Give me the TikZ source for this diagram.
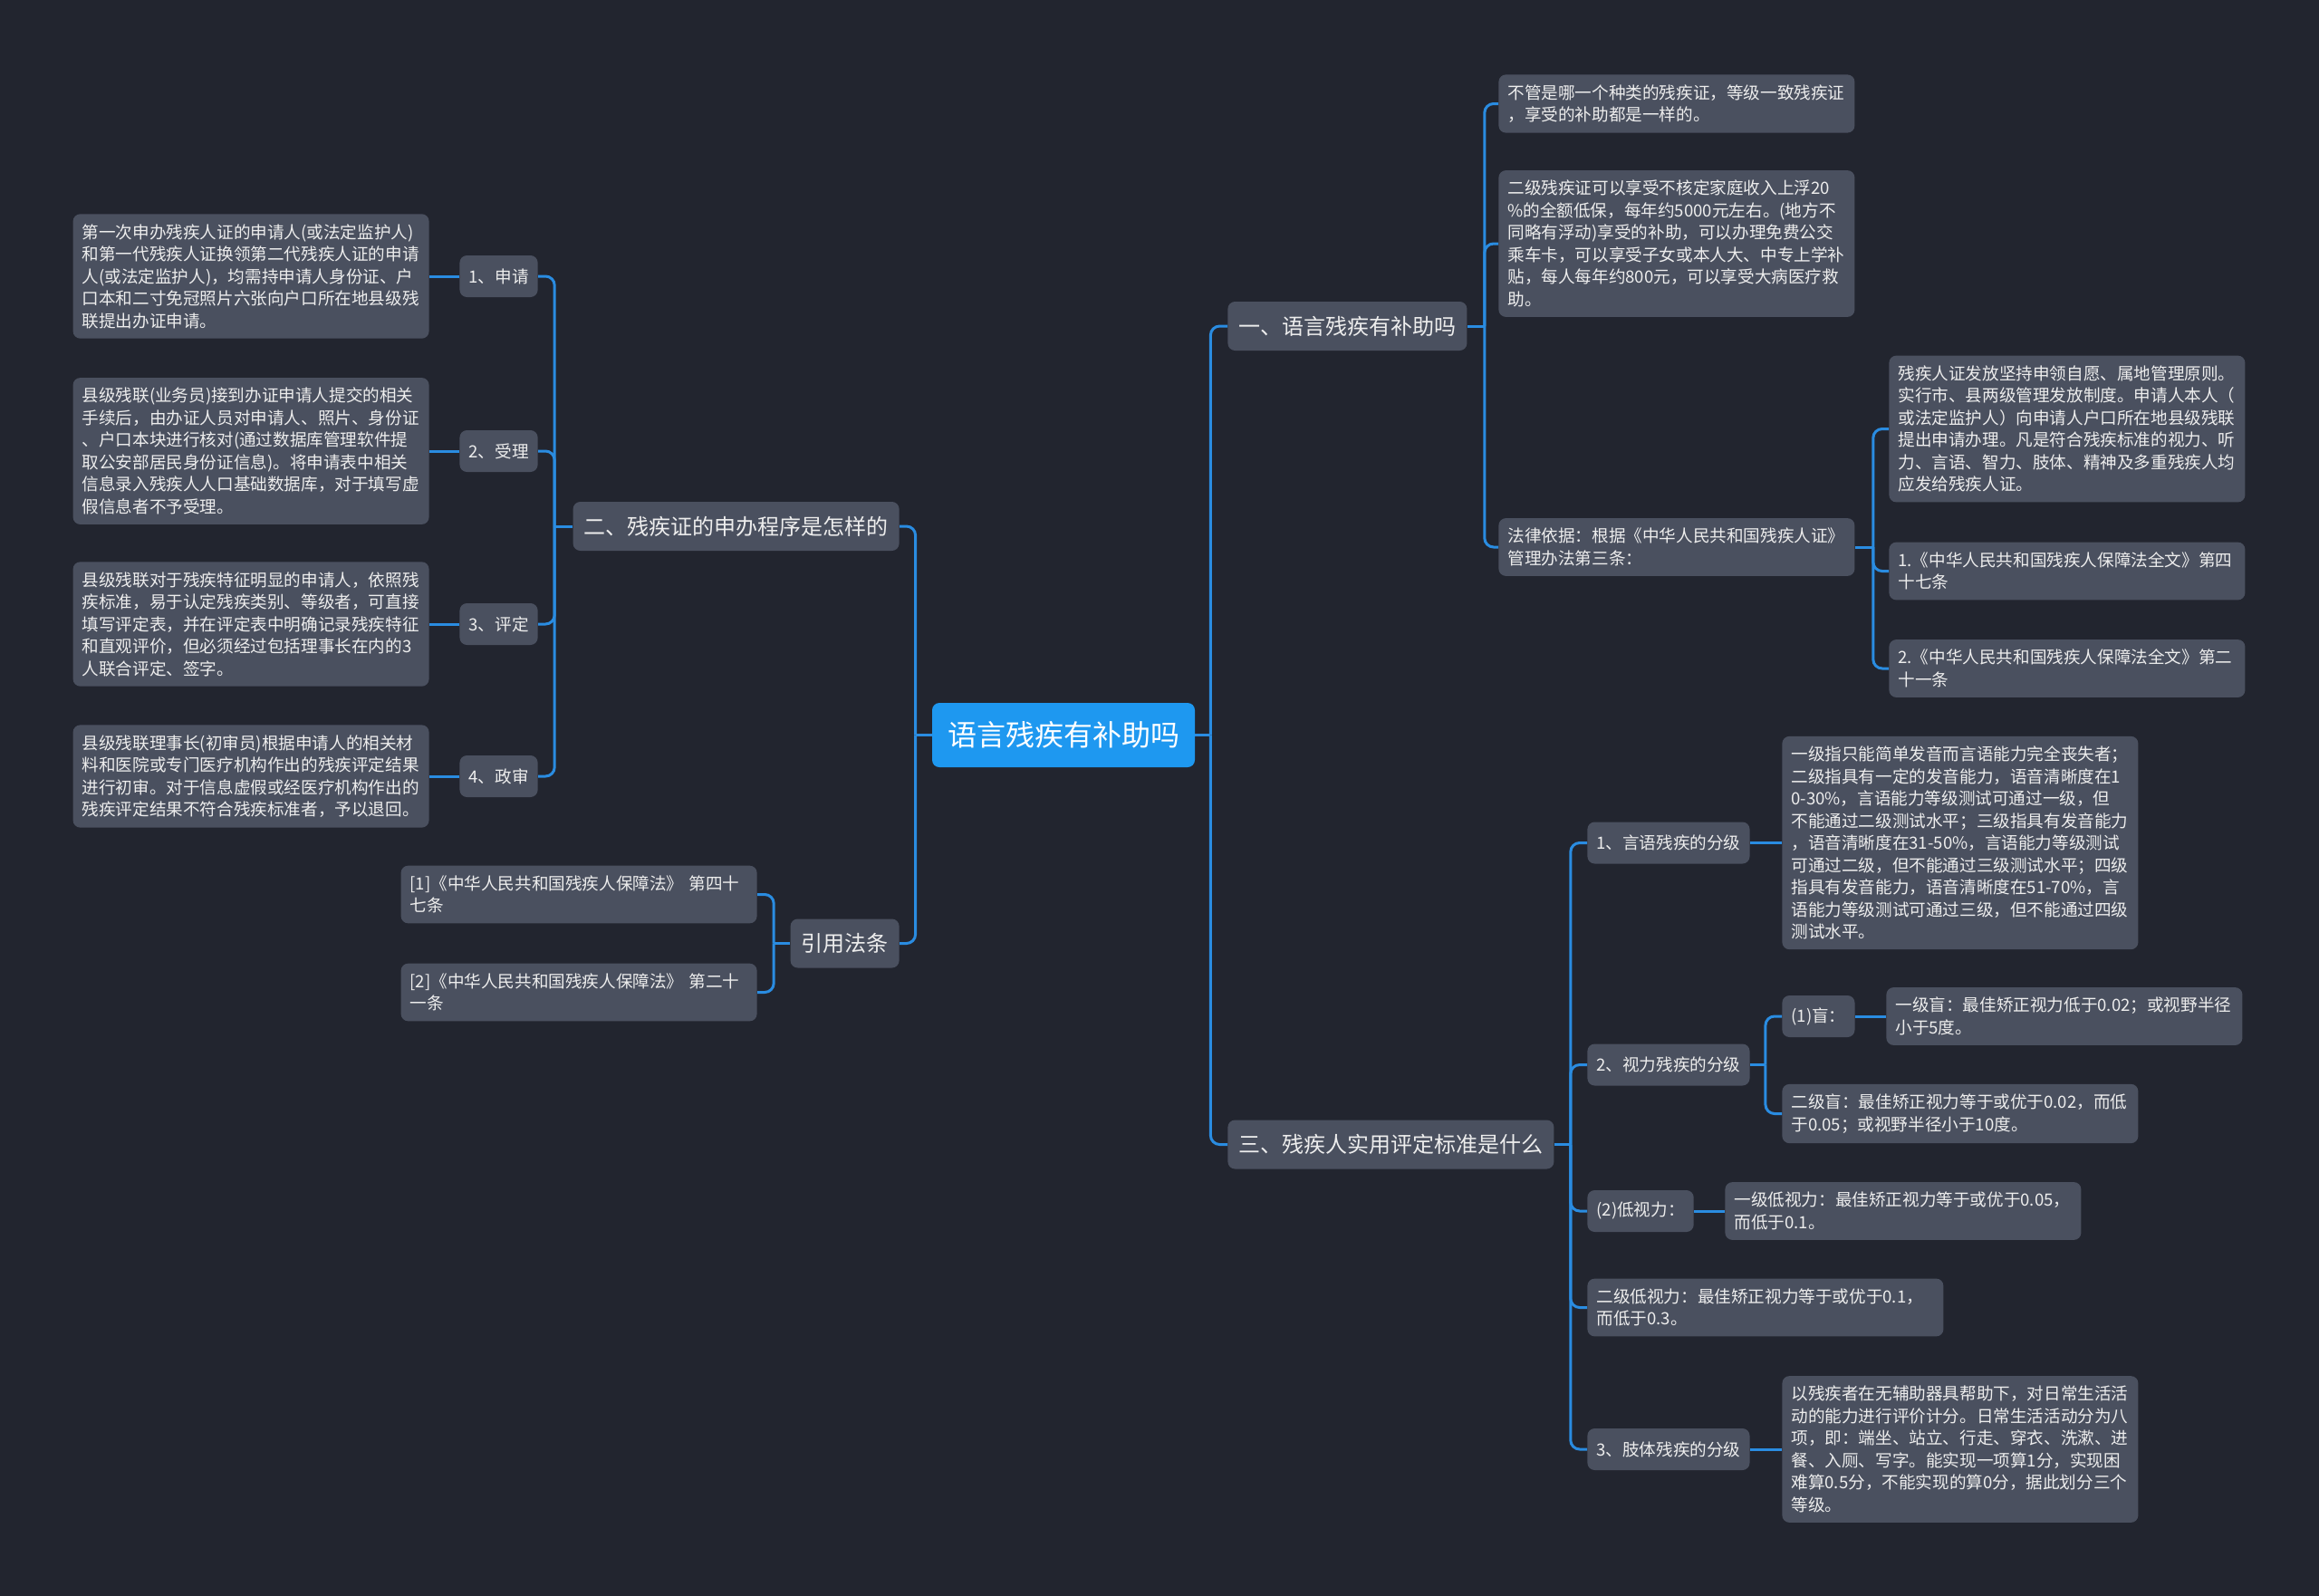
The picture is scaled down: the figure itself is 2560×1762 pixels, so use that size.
\documentclass[tikz,border=0pt]{standalone}
\usepackage{fontspec}
\setmainfont{Noto Sans CJK SC}
\definecolor{bgcol}{HTML}{22252F}
\definecolor{boxgray}{HTML}{4A505F}
\definecolor{linkblue}{HTML}{2A8CE1}
\definecolor{rootblue}{HTML}{1E98F0}
\definecolor{txtwhite}{HTML}{EDEDED}
\tikzset{
	leaf/.style={fill=boxgray, text=txtwhite, rounded corners=4pt, text width=186.5pt, inner xsep=5pt, inner ysep=5.5pt, align=left, font=\fontsize{9.3pt}{12.25pt}\selectfont},
	tag/.style={fill=boxgray, text=txtwhite, rounded corners=4pt, inner xsep=5pt, minimum height=23pt, font=\fontsize{9.3pt}{12.25pt}\selectfont},
	branch/.style={fill=boxgray, text=txtwhite, rounded corners=4pt, inner xsep=6pt, minimum height=27pt, font=\fontsize{12pt}{14pt}\selectfont},
	link/.style={draw=linkblue, line width=1.5pt, rounded corners=5pt},
}
\begin{document}
\begin{tikzpicture}[x=0.5pt,y=-0.5pt]

			\fill[bgcol] (0,0) rectangle (2560,1762);

			% centre
			\node[fill=rootblue, text=white, rounded corners=4pt, inner xsep=8.5pt, minimum height=35.5pt, font=\fontsize{16pt}{18pt}\selectfont] (root) at (1174,811.5) {语言残疾有补助吗};

			% right side
			\node[branch, anchor=west] (b1) at (1355,360) {一、语言残疾有补助吗};
			\node[branch, anchor=west] (b3) at (1355,1263.5) {三、残疾人实用评定标准是什么};

			\node[leaf, anchor=west] (a1) at (1654,114.5) {不管是哪一个种类的残疾证，等级一致残疾证\\，享受的补助都是一样的。};
			\node[leaf, anchor=west] (a2) at (1654,269) {二级残疾证可以享受不核定家庭收入上浮20\\\%的全额低保，每年约5000元左右。(地方不\\同略有浮动)享受的补助，可以办理免费公交\\乘车卡，可以享受子女或本人大、中专上学补\\贴，每人每年约800元，可以享受大病医疗救\\助。};
			\node[leaf, anchor=west] (a3) at (1654,604) {法律依据：根据《中华人民共和国残疾人证》\\管理办法第三条：};

			\node[leaf, anchor=west] (law1) at (2085,473.5) {残疾人证发放坚持申领自愿、属地管理原则。\\实行市、县两级管理发放制度。申请人本人（\\或法定监护人）向申请人户口所在地县级残联\\提出申请办理。凡是符合残疾标准的视力、听\\力、言语、智力、肢体、精神及多重残疾人均\\应发给残疾人证。};
			\node[leaf, anchor=west] (law2) at (2085,630.5) {1.《中华人民共和国残疾人保障法全文》第四\\十七条};
			\node[leaf, anchor=west] (law3) at (2085,738) {2.《中华人民共和国残疾人保障法全文》第二\\十一条};

			\node[tag, anchor=west] (c1) at (1752,930.5) {1、言语残疾的分级};
			\node[leaf, anchor=west] (c1t) at (1967,930.5) {一级指只能简单发音而言语能力完全丧失者；\\二级指具有一定的发音能力，语音清晰度在1\\0-30\%，言语能力等级测试可通过一级，但\\不能通过二级测试水平；三级指具有发音能力\\，语音清晰度在31-50\%，言语能力等级测试\\可通过二级，但不能通过三级测试水平；四级\\指具有发音能力，语音清晰度在51-70\%，言\\语能力等级测试可通过三级，但不能通过四级\\测试水平。};
			\node[tag, anchor=west] (c2) at (1752,1175.5) {2、视力残疾的分级};
			\node[tag, anchor=west] (blind) at (1967,1122) {(1)盲：};
			\node[leaf, anchor=west] (blindt) at (2082,1122) {一级盲：最佳矫正视力低于0.02；或视野半径\\小于5度。};
			\node[leaf, anchor=west] (c22) at (1967,1229.5) {二级盲：最佳矫正视力等于或优于0.02，而低\\于0.05；或视野半径小于10度。};
			\node[tag, anchor=west] (c3) at (1752,1337) {(2)低视力：};
			\node[leaf, anchor=west] (c3t) at (1904,1337) {一级低视力：最佳矫正视力等于或优于0.05，\\而低于0.1。};
			\node[leaf, anchor=west] (c4) at (1752,1443.5) {二级低视力：最佳矫正视力等于或优于0.1，\\而低于0.3。};
			\node[tag, anchor=west] (c5) at (1752,1600) {3、肢体残疾的分级};
			\node[leaf, anchor=west] (c5t) at (1967,1600) {以残疾者在无辅助器具帮助下，对日常生活活\\动的能力进行评价计分。日常生活活动分为八\\项，即：端坐、站立、行走、穿衣、洗漱、进\\餐、入厕、写字。能实现一项算1分，实现困\\难算0.5分，不能实现的算0分，据此划分三个\\等级。};

			% left side
			\node[branch, anchor=east] (b2) at (993,581) {二、残疾证的申办程序是怎样的};
			\node[branch, anchor=east] (b4) at (993,1041.5) {引用法条};

			\node[tag, anchor=east] (d1) at (594,305) {1、申请};
			\node[leaf, anchor=east] (d1t) at (474,305) {第一次申办残疾人证的申请人(或法定监护人)\\和第一代残疾人证换领第二代残疾人证的申请\\人(或法定监护人)，均需持申请人身份证、户\\口本和二寸免冠照片六张向户口所在地县级残\\联提出办证申请。};
			\node[tag, anchor=east] (d2) at (594,498) {2、受理};
			\node[leaf, anchor=east] (d2t) at (474,498) {县级残联(业务员)接到办证申请人提交的相关\\手续后，由办证人员对申请人、照片、身份证\\、户口本块进行核对(通过数据库管理软件提\\取公安部居民身份证信息)。将申请表中相关\\信息录入残疾人人口基础数据库，对于填写虚\\假信息者不予受理。};
			\node[tag, anchor=east] (d3) at (594,689) {3、评定};
			\node[leaf, anchor=east] (d3t) at (474,689) {县级残联对于残疾特征明显的申请人，依照残\\疾标准，易于认定残疾类别、等级者，可直接\\填写评定表，并在评定表中明确记录残疾特征\\和直观评价，但必须经过包括理事长在内的3\\人联合评定、签字。};
			\node[tag, anchor=east] (d4) at (594,857) {4、政审};
			\node[leaf, anchor=east] (d4t) at (474,857) {县级残联理事长(初审员)根据申请人的相关材\\料和医院或专门医疗机构作出的残疾评定结果\\进行初审。对于信息虚假或经医疗机构作出的\\残疾评定结果不符合残疾标准者，予以退回。};

			\node[leaf, anchor=east] (e1) at (836,987.5) {[1]《中华人民共和国残疾人保障法》 第四十\\七条};
			\node[leaf, anchor=east] (e2) at (836,1095.5) {[2]《中华人民共和国残疾人保障法》 第二十\\一条};

			% connectors
			\draw[link] (root.east) -- ++(17,0) coordinate (rj);
			\foreach \c in {b1,b3} \draw[link] (rj) |- (\c.west);
			\draw[link] (root.west) -- ++(-18,0) coordinate (lj);
			\foreach \c in {b2,b4} \draw[link] (lj) |- (\c.east);

			\draw[link] (b1.east) -- ++(19,0) coordinate (j1);
			\foreach \c in {a1,a2,a3} \draw[link] (j1) |- (\c.west);
			\draw[link] (a3.east) -- ++(20,0) coordinate (j2);
			\foreach \c in {law1,law2,law3} \draw[link] (j2) |- (\c.west);

			\draw[link] (b3.east) -- ++(18,0) coordinate (j3);
			\foreach \c in {c1,c2,c3,c4,c5} \draw[link] (j3) |- (\c.west);
			\draw[link] (c2.east) -- ++(17,0) coordinate (j4);
			\foreach \c in {blind,c22} \draw[link] (j4) |- (\c.west);
			\draw[link] (c1) -- (c1t);
			\draw[link] (blind) -- (blindt);
			\draw[link] (c3) -- (c3t);
			\draw[link] (c5) -- (c5t);

			\draw[link] (b2.west) -- ++(-20,0) coordinate (j5);
			\foreach \c in {d1,d2,d3,d4} \draw[link] (j5) |- (\c.east);
			\foreach \c in {d1,d2,d3,d4} \draw[link] (\c) -- (\c t);
			\draw[link] (b4.west) -- ++(-18,0) coordinate (j6);
			\foreach \c in {e1,e2} \draw[link] (j6) |- (\c.east);

	\end{tikzpicture}
\end{document}
